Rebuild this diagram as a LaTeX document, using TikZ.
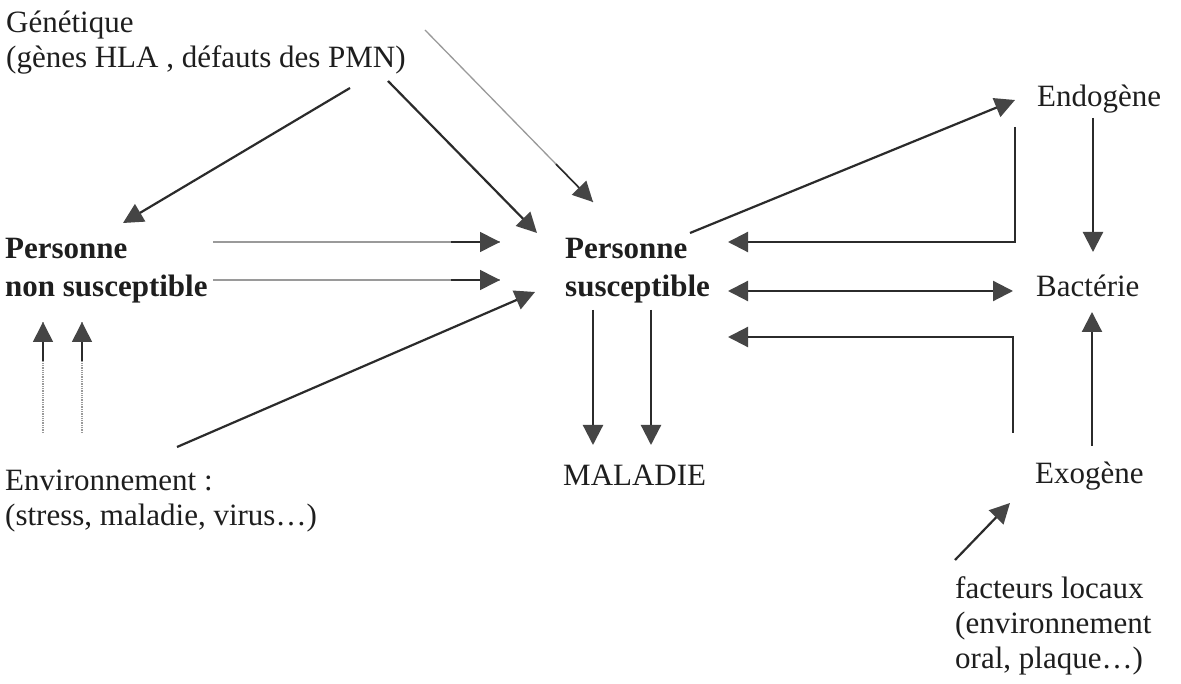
\documentclass[tikz,border=0pt]{standalone}
\usepackage{fontspec}
\setmainfont{Liberation Serif}
\usetikzlibrary{arrows.meta,calc}
\definecolor{ink}{HTML}{1E1E1E}
\definecolor{lineclr}{HTML}{2B2B2B}
\definecolor{headclr}{HTML}{454545}
\definecolor{faint}{HTML}{9A9A9A}
\tikzset{
  lbl/.style={anchor=base west, inner sep=0pt, align=left, text=ink, font=\fontsize{31}{35}\selectfont},
  blbl/.style={lbl, font=\fontsize{31}{38}\selectfont\bfseries},
  tiphead/.style={-{Triangle[length=20pt,width=20pt,color=headclr]}},
  arr/.style={tiphead, draw=lineclr, line width=2.2pt},
  dblarr/.style={{Triangle[length=20pt,width=20pt,color=headclr]}-{Triangle[length=20pt,width=20pt,color=headclr]}, draw=lineclr, line width=2.2pt},
  faintline/.style={draw=faint, line width=1.3pt},
  dotline/.style={draw=faint, line width=1.3pt, densely dotted},
  darkend/.style={tiphead, draw=lineclr, line width=1.6pt}
}
\begin{document}
\begin{tikzpicture}[x=1pt,y=-1pt]
\useasboundingbox[fill=white] (0,0) rectangle (1181,684);
% texts (multi-line nodes: base = baseline of the last line)
\node[lbl]  (gen)    at (6,68)    {Génétique\\(gènes HLA , défauts des PMN)};
\node[blbl] (nonsus) at (5,297)   {Personne\\non susceptible};
\node[lbl]  (env)    at (5,525)   {Environnement :\\(stress, maladie, virus…)};
\node[blbl] (sus)    at (565,297) {Personne\\susceptible};
\node[lbl]  (mal)    at (563,485) {MALADIE};
\node[lbl]  (endo)   at (1037,107) {Endogène};
\node[lbl]  (bact)   at (1036,297) {Bactérie};
\node[lbl]  (exo)    at (1035,483) {Exogène};
\node[lbl]  (fact)   at (955,668) {facteurs locaux\\(environnement\\oral, plaque…)};
% endpoints
\coordinate (gA) at (350,88);   \coordinate (nsA) at (123,223);
\coordinate (gB) at (388,81);   \coordinate (sA) at (537,233);
\coordinate (gC) at (425,30);   \coordinate (sB) at (593,202);
\coordinate (nsR1) at (213,242); \coordinate (sL1) at (500,242);
\coordinate (nsR2) at (213,280); \coordinate (sL2) at (500,280);
\coordinate (eA) at (177,447);  \coordinate (sC) at (535,292);
\coordinate (eU1) at (43,433);  \coordinate (nsD1) at (43,322);
\coordinate (eU2) at (82,433);  \coordinate (nsD2) at (82,322);
\coordinate (sD1) at (593,310); \coordinate (mU1) at (593,445);
\coordinate (sD2) at (651,310); \coordinate (mU2) at (651,445);
\coordinate (sE) at (690,233);  \coordinate (enL) at (1015,100);
\coordinate (enD) at (1015,127); \coordinate (enK) at (1015,242); \coordinate (sR1) at (728,242);
\coordinate (sR2) at (728,291); \coordinate (bL) at (1013,291);
\coordinate (exU) at (1013,433); \coordinate (exK) at (1013,337); \coordinate (sR3) at (728,337);
\coordinate (enB) at (1093,118); \coordinate (bT) at (1093,252);
\coordinate (exB) at (1092,446); \coordinate (bB) at (1092,312);
\coordinate (fT) at (955,560);  \coordinate (exF) at (1010,503);
% connectors
\draw[arr] (gA) -- (nsA);
\draw[arr] (gB) -- (sA);
\draw[faintline] (gC) -- (sB);
\draw[darkend] ($(gC)!0.78!(sB)$) -- (sB);
\draw[faintline] (nsR1) -- (sL1);
\draw[darkend] ($(nsR1)!0.83!(sL1)$) -- (sL1);
\draw[faintline] (nsR2) -- (sL2);
\draw[darkend] ($(nsR2)!0.83!(sL2)$) -- (sL2);
\draw[arr] (eA) -- (sC);
\draw[dotline] (eU1) -- (nsD1);
\draw[darkend] ($(eU1)!0.65!(nsD1)$) -- (nsD1);
\draw[dotline] (eU2) -- (nsD2);
\draw[darkend] ($(eU2)!0.65!(nsD2)$) -- (nsD2);
\draw[arr] (sD1) -- (mU1);
\draw[arr] (sD2) -- (mU2);
\draw[arr] (sE) -- (enL);
\draw[arr] (enD) -- (enK) -- (sR1);
\draw[dblarr] (sR2) -- (bL);
\draw[arr] (exU) -- (exK) -- (sR3);
\draw[arr] (enB) -- (bT);
\draw[arr] (exB) -- (bB);
\draw[arr] (fT) -- (exF);
\end{tikzpicture}
\end{document}
